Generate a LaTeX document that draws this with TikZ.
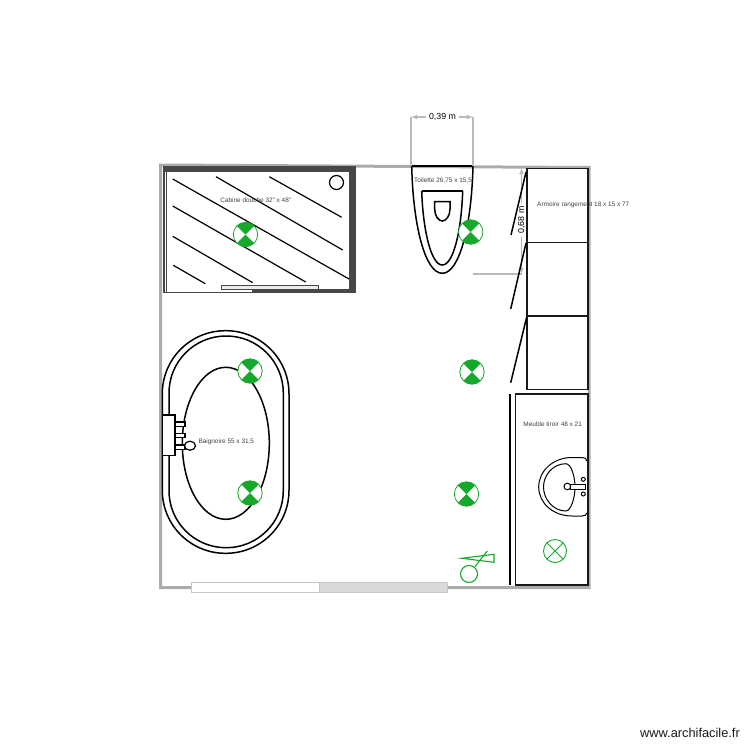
\documentclass[tikz,border=0pt]{standalone}
\usepackage{fontspec}
\setmainfont{Liberation Sans}
\definecolor{vertlampe}{HTML}{16A82A}
\definecolor{mur}{HTML}{ABABAB}
\definecolor{paroi}{HTML}{474747}
\tikzset{
    meuble/.style={draw=black!90, line width=1.6pt},
    trait/.style={black, line width=1.5pt},
    hachure/.style={black, line width=1.2pt},
    fin/.style={black, line width=1pt},
    etiquette/.style={font=\fontsize{6.45}{8}\selectfont, text=black!75, inner sep=0pt},
    cote/.style={draw=gray!55, line width=1.1pt},
    valeur/.style={font=\fontsize{8.8}{10}\selectfont, inner sep=3pt},
    lampe/.pic={
        \draw[vertlampe, fill=white, line width=0.8pt] (0,0) circle[radius=12.2pt];
        \fill[vertlampe] (0,0) -- (45:12.2pt) arc[start angle=45, end angle=135, radius=12.2pt] -- cycle;
        \fill[vertlampe] (0,0) -- (225:12.2pt) arc[start angle=225, end angle=315, radius=12.2pt] -- cycle;
    }
}
\begin{document}
\begin{tikzpicture}[x=1pt, y=-1pt]
    \useasboundingbox (0,0) rectangle (750,750);
    % Murs
    \draw[mur, line width=3pt, line join=miter] (160.5,165) -- (589,167.5) -- (589,587.5) -- (160.5,587.5) -- cycle;
    % Fenetre
    \draw[gray!45, fill=white, line width=1pt] (191.3,582.7) rectangle (319.3,592.3);
    \draw[gray!45, fill=gray!30, line width=1pt] (319.3,582.7) rectangle (447.3,592.3);
    % Douche
    \fill[white] (162.5,166) rectangle (355.5,292.5);
    \fill[paroi] (162.5,166) rectangle (355.5,171.5);
    \fill[paroi] (349,166) rectangle (355.5,292.5);
    \fill[paroi] (162.5,166) rectangle (165,292.5);
    \fill[paroi] (252,289.3) rectangle (355.5,292.5);
    \draw[paroi, line width=0.7pt] (166.5,171) -- (166.5,292);
    \draw[paroi, line width=1.4pt] (162.5,292.2) -- (355.5,292.2);
    \draw[hachure] (172.7,179) -- (349,279);
    \draw[hachure] (216,176.7) -- (342.7,250);
    \draw[hachure] (269.3,176.7) -- (341.7,217.3);
    \draw[hachure] (172.7,206) -- (305.7,282);
    \draw[hachure] (172.7,236.3) -- (252.7,282.7);
    \draw[hachure] (173.3,265.3) -- (205.3,283.7);
    \draw[hachure] (336.5,182.5) circle[radius=7pt];
    \draw[paroi, fill=gray!15, line width=1pt] (221,285.4) rectangle (318,289);
    \node[etiquette] (labelCabine) at (255.7,200) {Cabine douche 32" x 48"};
    % Toilette
    \draw[trait] (411.7,166) -- (473,166);
    \draw[trait] (411.7,166) .. controls (413,225) and (425,273.3) .. (442.3,273.3) .. controls (459.6,273.3) and (471.6,225) .. (473,166);
    \draw[trait] (421.7,191) -- (462.7,191);
    \draw[trait] (421.7,191) .. controls (423,230) and (431,265) .. (442.3,265) .. controls (453.6,265) and (461.4,230) .. (462.7,191);
    \draw[trait] (434.7,201.7) -- (450,201.7) -- (450,209) .. controls (450,216) and (446,221) .. (442.3,221) .. controls (438.6,221) and (434.7,216) .. (434.7,209) -- cycle;
    \node[etiquette] (labelToilette) at (443,181) {Toilette 26,75 x 15,5};
    % Cote horizontale
    \node[valeur] (cote39) at (442.5,117) {0,39 m};
    \coordinate (coteA) at (411,117);
    \coordinate (coteB) at (473,117);
    \coordinate (coteA0) at (411,166);
    \coordinate (coteB0) at (473,166);
    \draw[cote, -latex] (cote39) -- (coteA);
    \draw[cote, -latex] (cote39) -- (coteB);
    \draw[cote] (coteA) -- (coteA0);
    \draw[cote] (coteB) -- (coteB0);
    % Cote verticale
    \node[valeur, rotate=90] (cote68) at (521.5,220) {0,68 m};
    \coordinate (coteC) at (521.5,168);
    \coordinate (coteD) at (521.5,274);
    \coordinate (coteD0) at (473,274);
    \draw[cote, -latex] (cote68) -- (coteC);
    \draw[cote, -latex] (cote68) -- (coteD);
    \draw[cote] (coteD) -- (coteD0);
    % Armoires
    \draw[meuble] (526.7,168.3) rectangle (588,242.3);
    \draw[meuble] (526.7,242.3) rectangle (588,316);
    \draw[meuble] (526.7,316) rectangle (588,389.5);
    \draw[trait] (526,172) -- (511,235);
    \draw[trait] (526,243) -- (510.7,309);
    \draw[trait] (526.7,317) -- (510.7,382.7);
    \node[etiquette, anchor=west] (labelArmoire) at (537,205) {Armoire rangement 18 x 15 x 77};
    % Meuble et lavabo
    \draw[meuble] (515.3,393.7) rectangle (588,585);
    \draw[trait, line width=2pt] (510,394.3) -- (510,585);
    \node[etiquette] (labelMeuble) at (552.7,424) {Meuble tiroir 48 x 21};
    \draw[fin] (586.7,461) .. controls (586.7,458.5) and (585,457.5) .. (582,457.5) -- (572,457.5) .. controls (553,457.5) and (538.7,471) .. (538.7,487) .. controls (538.7,503) and (553,516) .. (572,516) -- (582,516) .. controls (585,516) and (586.7,515) .. (586.7,513);
    \draw[fin] (566,463.7) .. controls (571,464) and (575,476) .. (575,487) .. controls (575,498) and (571,510.5) .. (566,511) .. controls (553,511) and (543.5,499) .. (543.5,487) .. controls (543.5,475) and (553,463.7) .. (566,463.7);
    \draw[fin, fill=white] (570,484.5) -- (585.5,484.5) -- (585.5,489) -- (570,489) -- cycle;
    \draw[fin, fill=white] (567.3,486.5) circle[radius=3.3pt];
    \draw[fin] (583.3,479.3) circle[radius=2pt];
    \draw[fin] (583.3,494) circle[radius=2pt];
    % Baignoire
    \draw[trait] (162.3,330.7) [rounded corners=63pt] rectangle (289,553.3);
    \draw[trait] (169,336) [rounded corners=57pt] rectangle (283.3,547.7);
    \draw[trait] (225.8,443.3) ellipse[x radius=43.5pt, y radius=76pt];
    \draw[fin, line width=1.2pt, fill=white] (175,422) rectangle (185,426.7);
    \draw[fin, line width=1.2pt, fill=white] (175,433.3) rectangle (185,437.7);
    \draw[fin, line width=1.2pt, fill=white] (175,445) rectangle (185,449.3);
    \draw[fin, line width=1.2pt, fill=white] (162.7,415) rectangle (175,455.7);
    \draw[fin, line width=1.2pt, fill=white] (190,445.7) ellipse[x radius=5.5pt, y radius=4.5pt];
    \node[etiquette, anchor=west] (labelBaignoire) at (198.3,442) {Baignoire 55 x 31,5};
    % Lampes
    \foreach \x/\y in {245.5/234.5, 250/371, 250/493, 470.7/232, 472/372, 466.5/494}
        \pic at (\x,\y) {lampe};
    % Spot et interrupteur
    \draw[vertlampe, line width=0.9pt] (555,551) circle[radius=11.5pt];
    \draw[vertlampe, line width=0.9pt] (546.9,542.9) -- (563.1,559.1);
    \draw[vertlampe, line width=0.9pt] (546.9,559.1) -- (563.1,542.9);
    \draw[vertlampe, line width=1.1pt] (469,574) circle[radius=8.5pt];
    \draw[vertlampe, line width=1.1pt] (475,566.7) -- (487.3,551);
    \draw[vertlampe, line width=1.1pt] (461.7,558.3) -- (494,554.3) -- (494,562.3) -- cycle;
    % Site
    \node[font=\fontsize{12.8}{15}\selectfont, text=black!90, anchor=east, inner sep=0pt] (site) at (740,733) {www.archifacile.fr};
\end{tikzpicture}
\end{document}
